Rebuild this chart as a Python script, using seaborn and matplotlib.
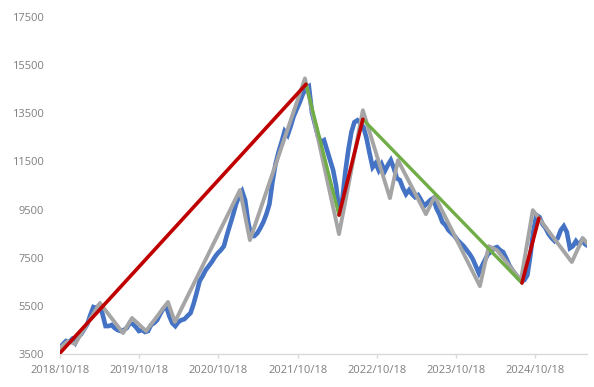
import numpy as np
import pandas as pd
import matplotlib
matplotlib.use("Agg")
import matplotlib.pyplot as plt
import matplotlib.dates as mdates
import seaborn as sns

# ---- data ----
blue_start = "2018-10-18"
blue_values = [
    3750, 3915, 4040, 4000, 4120, 3955, 4205, 4330, 4540, 4745,
    5120, 5450, 5410, 5535, 5160, 4660, 4660, 4705, 4580, 4495,
    4455, 4495, 4580, 4785, 4745, 4620, 4455, 4495, 4415, 4455,
    4705, 4785, 4910, 5160, 5370, 5490, 5080, 4785, 4660, 4830,
    4910, 4950, 5080, 5200, 5575, 6030, 6530, 6740, 6985, 7150,
    7320, 7525, 7690, 7815, 7980, 8440, 8855, 9270, 9725, 10060,
    10265, 9890, 8980, 8400, 8400, 8520, 8730, 8980, 9310, 9725,
    10640, 11385, 11880, 12300, 12755, 12590, 12960, 13380, 13670, 13960,
    14290, 14540, 14620, 13545, 13045, 12550, 12300, 12380, 11970, 11550,
    11135, 10470, 9390, 9890, 11050, 11970, 12710, 13130, 13210, 13090,
    12920, 12465, 11840, 11260, 11425, 11135, 11385, 11095, 11345, 11550,
    11220, 10800, 10720, 10390, 10140, 10310, 10140, 10015, 10100, 9890,
    9640, 9770, 9890, 9975, 9560, 9310, 8980, 8855, 8645, 8520,
    8400, 8230, 8105, 7980, 7815, 7650, 7445, 7150, 6860, 7150,
    7400, 7650, 7735, 7900, 7940, 7815, 7735, 7485, 7195, 6990,
    6820, 6655, 6530, 6570, 6780, 7610, 8645, 9270, 9185, 8890,
    8730, 8480, 8315, 8190, 8315, 8645, 8810, 8565, 7900, 7985,
    8190, 8025, 8230, 8065, 7985,
]

gray_dates = [
    "2018-10-18", "2018-11-24", "2018-12-26", "2019-04-20", "2019-08-05",
    "2019-09-15", "2019-11-19", "2020-02-28", "2020-03-31", "2021-01-25",
    "2021-03-12", "2021-11-21", "2022-04-27", "2022-08-15", "2022-12-18",
    "2023-01-24", "2023-06-02", "2023-07-13", "2024-02-06", "2024-03-18",
    "2024-04-24", "2024-08-13", "2024-10-07", "2025-04-05", "2025-05-26",
    "2025-06-18",
]
gray_values = [
    3750, 4040, 3915, 5615, 4370, 4995, 4455, 5660, 4830, 10310,
    8230, 14950, 8480, 13625, 9975, 11550, 9310, 10060, 6320, 7980,
    7815, 6570, 9475, 7320, 8315, 8065,
]

red_segments = [
    (["2018-10-18", "2021-11-26"], [3540, 14705]),
    (["2022-04-27", "2022-08-15"], [9270, 13250]),
    (["2024-08-18", "2024-11-04"], [6450, 9140]),
]
green_segments = [
    (["2021-11-26", "2022-04-27"], [14705, 9270]),
    (["2022-08-15", "2024-08-18"], [13250, 6450]),
]

x_tick_labels = ["2018/10/18", "2019/10/18", "2020/10/18", "2021/10/18",
                 "2022/10/18", "2023/10/18", "2024/10/18"]
y_ticks = [3500, 5500, 7500, 9500, 11500, 13500, 15500, 17500]

# ---- plotting ----
sns.set_style("white")
plt.rcParams["font.family"] = ["Open Sans", "DejaVu Sans"]

fig = plt.figure(figsize=(5.94, 3.87), dpi=100)
ax = fig.add_axes([60 / 594, (387 - 354) / 387, (587 - 60) / 594, (354 - 17) / 387])

blue_df = pd.DataFrame({
    "date": pd.date_range(blue_start, periods=len(blue_values), freq="14D"),
    "value": blue_values,
})
gray_df = pd.DataFrame({"date": pd.to_datetime(gray_dates), "value": gray_values})

sns.lineplot(data=blue_df, x="date", y="value", ax=ax, color="#4472C4",
             linewidth=3.3, zorder=2, solid_joinstyle="miter")
sns.lineplot(data=gray_df, x="date", y="value", ax=ax, color="#A5A5A5",
             linewidth=2.8, zorder=3, solid_joinstyle="round")
for d, v in green_segments:
    sns.lineplot(x=pd.to_datetime(d), y=v, ax=ax, color="#70AD47",
                 linewidth=2.4, zorder=4)
for d, v in red_segments:
    sns.lineplot(x=pd.to_datetime(d), y=v, ax=ax, color="#C00000",
                 linewidth=2.6, zorder=5)

ax.set_xlim(pd.Timestamp("2018-10-18"), pd.Timestamp("2025-06-14"))
ax.set_ylim(3500, 17500)
ax.set_yticks(y_ticks)
ax.set_yticklabels([str(t) for t in y_ticks])
xt = pd.to_datetime([s.replace("/", "-") for s in x_tick_labels])
ax.set_xticks(xt)
ax.set_xticklabels(x_tick_labels)

ax.set_xlabel("")
ax.set_ylabel("")
for s in ["top", "right", "left"]:
    ax.spines[s].set_visible(False)
ax.spines["bottom"].set_color("#D9D9D9")
ax.spines["bottom"].set_linewidth(1.0)
ax.tick_params(axis="x", colors="#D9D9D9", labelcolor="#7F7F7F",
               length=3, width=1, direction="out", pad=5, labelsize=8,
               bottom=True)
ax.tick_params(axis="y", length=0, pad=11.5, labelcolor="#7F7F7F", labelsize=8)
ax.grid(False)
if ax.get_legend():
    ax.get_legend().remove()

fig.savefig("out.png", dpi=100)
